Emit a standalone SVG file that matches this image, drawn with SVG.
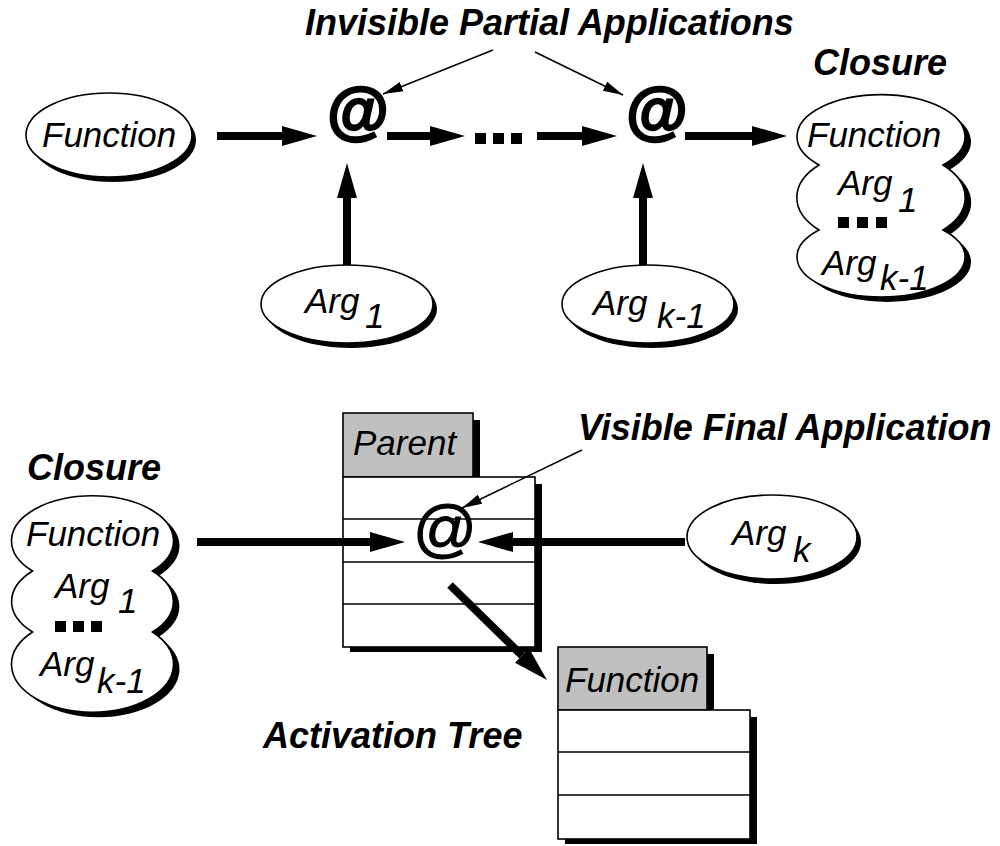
<svg xmlns="http://www.w3.org/2000/svg" width="1000" height="846" viewBox="0 0 1000 846">
<style>
.lbl{font-family:"Liberation Sans",Arial,sans-serif;font-weight:bold;font-style:italic;font-size:36px;fill:#000}
.t{font-family:"Liberation Sans",Arial,sans-serif;font-style:italic;font-size:35px;fill:#000}
.at{font-family:"Liberation Sans",Arial,sans-serif;font-size:63px;fill:#000;text-anchor:middle;stroke:#000}
.atb{font-weight:bold;stroke-width:2.4}
.atn{stroke-width:1}
.face{fill:#fff;stroke:#000;stroke-width:1.6}
.shd{fill:#000}
.tab{fill:#c0c0c0;stroke:#000;stroke-width:1.6}
.row{stroke:#000;stroke-width:1.6;fill:none}
.thick{stroke:#000;stroke-width:8;fill:none;marker-end:url(#ah)}
.thin{stroke:#000;stroke-width:1.5;fill:none;marker-end:url(#th)}
</style>
<defs>
<marker id="ah" markerUnits="userSpaceOnUse" markerWidth="36" markerHeight="22" viewBox="0 -11 36 22" refX="0" refY="0" orient="auto"><path d="M0,-10 L35,0 L0,10 z" fill="#000"/></marker>
<marker id="th" markerUnits="userSpaceOnUse" markerWidth="22" markerHeight="12" viewBox="0 -6 22 12" refX="20" refY="0" orient="auto"><path d="M0,-5 L20,0 L0,5 z" fill="#000"/></marker>
<path id="cloudTop" d="M819,165 A84,42 0 1 1 943,165 A84,48 0 0 1 943,230 A84,40 0 1 1 819,230 A84,48 0 0 1 819,165 Z"/>
<path id="cloudBot" d="M32.5,571 A81,45 0 1 1 152.5,571 A81,45.5 0 0 1 152.5,632 A81,48 0 1 1 32.5,632 A81,45.5 0 0 1 32.5,571 Z"/>
</defs>

<g id="labels">
<text class="lbl" x="305" y="35">Invisible Partial Applications</text>
<text class="lbl" x="813" y="75">Closure</text>
<text class="lbl" x="27" y="480">Closure</text>
<text class="lbl" x="578" y="440">Visible Final Application</text>
<text class="lbl" x="263" y="748">Activation Tree</text>
</g>

<g id="node-function">
<ellipse class="shd" cx="113" cy="140" rx="83" ry="42"/>
<ellipse class="face" cx="109" cy="135" rx="83" ry="42"/>
<text class="t" x="42" y="147">Function</text>
</g>

<g id="node-arg1">
<ellipse class="shd" cx="351" cy="309" rx="86" ry="39"/>
<ellipse class="face" cx="347" cy="304" rx="86" ry="39"/>
<text class="t"><tspan x="305" y="313">Arg</tspan><tspan x="365" y="328">1</tspan></text>
</g>

<g id="node-argk1">
<ellipse class="shd" cx="652" cy="309" rx="86" ry="39"/>
<ellipse class="face" cx="648" cy="304" rx="86" ry="39"/>
<text class="t"><tspan x="593" y="315">Arg</tspan><tspan x="657" y="328">k-1</tspan></text>
</g>

<g id="node-app1">
<text class="at atb" x="358" y="132">@</text>
</g>

<g id="node-dots">
<rect x="475" y="133" width="11" height="11"/>
<rect x="493" y="133" width="11" height="11"/>
<rect x="511" y="133" width="11" height="11"/>
</g>

<g id="node-app2">
<text class="at atb" x="657" y="132">@</text>
</g>

<g id="node-closure-top">
<use href="#cloudTop" class="shd" transform="translate(6,5)"/>
<use href="#cloudTop" class="face"/>
<text class="t" x="807" y="147">Function</text>
<text class="t"><tspan x="838" y="195">Arg</tspan><tspan x="898" y="212">1</tspan></text>
<rect x="838" y="217" width="11" height="11"/>
<rect x="857" y="217" width="11" height="11"/>
<rect x="876" y="217" width="11" height="11"/>
<text class="t"><tspan x="822" y="275">Arg</tspan><tspan x="880" y="290">k-1</tspan></text>
</g>

<g id="node-closure-bottom">
<use href="#cloudBot" class="shd" transform="translate(6,5)"/>
<use href="#cloudBot" class="face"/>
<text class="t" x="26" y="546">Function</text>
<text class="t"><tspan x="55" y="598">Arg</tspan><tspan x="118" y="613">1</tspan></text>
<rect x="55" y="621" width="11" height="11"/>
<rect x="73" y="621" width="11" height="11"/>
<rect x="91" y="621" width="11" height="11"/>
<text class="t"><tspan x="40" y="676">Arg</tspan><tspan x="97" y="693">k-1</tspan></text>
</g>

<g id="node-parent">
<rect class="shd" x="350" y="420" width="130" height="64"/>
<rect class="tab" x="343" y="413" width="130" height="64"/>
<rect class="shd" x="350" y="484" width="192" height="168"/>
<rect class="face" x="343" y="477" width="192" height="170"/>
<line class="row" x1="343" y1="519" x2="535" y2="519"/>
<line class="row" x1="343" y1="562" x2="535" y2="562"/>
<line class="row" x1="343" y1="604" x2="535" y2="604"/>
<text class="t" x="353" y="455">Parent</text>
</g>

<g id="node-argk">
<ellipse class="shd" cx="776" cy="542" rx="85" ry="42"/>
<ellipse class="face" cx="772" cy="537" rx="85" ry="42"/>
<text class="t"><tspan x="732" y="545">Arg</tspan><tspan x="793" y="562">k</tspan></text>
</g>

<g id="node-function-frame">
<rect class="shd" x="565" y="654" width="149" height="63"/>
<rect class="tab" x="558" y="647" width="149" height="63"/>
<rect class="shd" x="565" y="717" width="192" height="127"/>
<rect class="face" x="558" y="710" width="192" height="129"/>
<line class="row" x1="558" y1="752" x2="750" y2="752"/>
<line class="row" x1="558" y1="795" x2="750" y2="795"/>
<text class="t" x="565" y="692">Function</text>
</g>

<g id="node-app-final">
<text class="at atn" x="445" y="550">@</text>
</g>

<g id="connectors">
<line class="thick" x1="217" y1="136" x2="282" y2="136"/>
<line class="thick" x1="387" y1="136" x2="430" y2="136"/>
<line class="thick" x1="537" y1="136" x2="582" y2="136"/>
<line class="thick" x1="685" y1="136" x2="752" y2="136"/>
<line class="thick" x1="347" y1="265" x2="347" y2="198"/>
<line class="thick" x1="643" y1="265" x2="643" y2="198"/>
<line class="thick" x1="197" y1="542" x2="370" y2="542"/>
<line class="thick" x1="685" y1="542" x2="513" y2="542"/>
<line class="thick" x1="450" y1="585" x2="522" y2="655.5"/>
<line class="thin" x1="493" y1="50" x2="383" y2="94"/>
<line class="thin" x1="535" y1="52" x2="623" y2="95"/>
<line class="thin" x1="582" y1="450" x2="462" y2="508"/>
</g>
</svg>
